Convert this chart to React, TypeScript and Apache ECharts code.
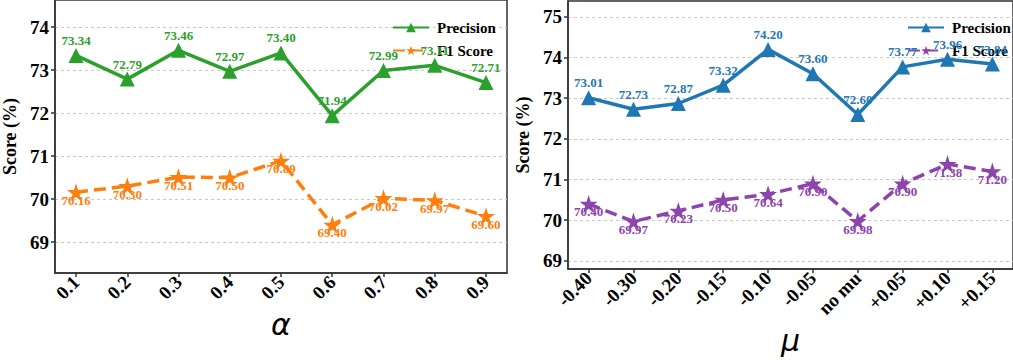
import React, { useEffect, useRef } from "react";
import * as echarts from "echarts";

const alphaCats = ["0.1", "0.2", "0.3", "0.4", "0.5", "0.6", "0.7", "0.8", "0.9"];
const alphaPrecision = [73.34, 72.79, 73.46, 72.97, 73.4, 71.94, 72.99, 73.11, 72.71];
const alphaF1 = [70.16, 70.3, 70.51, 70.5, 70.89, 69.4, 70.02, 69.97, 69.6];

const muCats = ["-0.40", "-0.30", "-0.20", "-0.15", "-0.10", "-0.05", "no mu", "+0.05", "+0.10", "+0.15"];
const muPrecision = [73.01, 72.73, 72.87, 73.32, 74.2, 73.6, 72.6, 73.77, 73.96, 73.84];
const muF1 = [70.4, 69.97, 70.23, 70.5, 70.64, 70.9, 69.98, 70.9, 71.38, 71.2];

const leftTicks = [69, 70, 71, 72, 73, 74];
const rightTicks = [69, 70, 71, 72, 73, 74, 75];

const SERIF = "Liberation Serif, Times New Roman, serif";
const STAR =
  "path://M50,0 L61.2,34.5 L97.6,34.5 L68.2,55.9 L79.4,90.5 L50,69.1 L20.6,90.5 L31.8,55.9 L2.4,34.5 L38.8,34.5 Z";

function lineSeries(name: string, vals: number[], idx: number, color: string, isF1: boolean) {
  return {
    type: "line",
    name,
    xAxisIndex: idx,
    yAxisIndex: idx,
    data: vals.map((v, i) => [i, v]),
    symbol: isF1 ? STAR : "triangle",
    symbolSize: isF1 ? 18 : 15,
    color,
    itemStyle: { color },
    lineStyle: { color, width: 3.5, type: isF1 ? [12, 6] : "solid" },
    label: {
      show: true,
      position: isF1 ? "inside" : "top",
      distance: 1,
      offset: isF1 ? [0, 8] : [0, 0],
      formatter: (p: any) => p.value[1].toFixed(2),
      color,
      fontFamily: SERIF,
      fontWeight: "bold",
      fontSize: 13,
    },
    z: isF1 ? 3 : 4,
  };
}

export default function App() {
  const ref = useRef<HTMLDivElement>(null);
  useEffect(() => {
    if (!ref.current) return;
    const chart = echarts.init(ref.current, null, { renderer: "svg" });
    const axisLineStyle = { color: "#333", width: 1.5 };
    const mkX = (idx: number, cats: string[], name: string, gap: number, pad: number) => ({
      type: "value",
      gridIndex: idx,
      min: -pad,
      max: cats.length - 1 + pad,
      name,
      nameLocation: "middle",
      nameGap: gap,
      nameTextStyle: { fontFamily: "DejaVu Sans", fontStyle: "italic", fontSize: 30, color: "#000" },
      axisLine: { show: true, onZero: false, lineStyle: axisLineStyle },
      axisTick: { show: true, customValues: cats.map((_, i) => i), length: 4, lineStyle: axisLineStyle },
      axisLabel: {
        customValues: cats.map((_, i) => i),
        formatter: (v: number) => cats[Math.round(v)] ?? "",
        rotate: 45,
        margin: 6,
        fontFamily: SERIF,
        fontWeight: "bold",
        fontSize: 19,
        color: "#000",
      },
      splitLine: { show: false },
    });
    const mkY = (idx: number, min: number, max: number, ticks: number[]) => ({
      type: "value",
      gridIndex: idx,
      min,
      max,
      name: "Score (%)",
      nameLocation: "middle",
      nameGap: 36,
      nameTextStyle: { fontFamily: SERIF, fontWeight: "bold", fontSize: 18, color: "#000" },
      axisLine: { show: true, onZero: false, lineStyle: axisLineStyle },
      axisTick: { show: true, customValues: ticks, length: 4, lineStyle: axisLineStyle },
      axisLabel: {
        customValues: ticks,
        formatter: (v: number) => String(v),
        margin: 6,
        fontFamily: SERIF,
        fontWeight: "bold",
        fontSize: 19,
        color: "#000",
      },
      splitLine: { show: true, lineStyle: { color: "#c8c8c8", type: [3, 3], width: 1 } },
    });
    const legendCommon = {
      orient: "vertical",
      itemWidth: 36,
      itemHeight: 12,
      itemGap: 8,
      formatter: (n: string) => n.split("|")[0],
      textStyle: { fontFamily: SERIF, fontWeight: "bold", fontSize: 15, color: "#000", padding: [0, 0, 0, 3] },
    };
    chart.setOption({
      animation: false,
      backgroundColor: "#fff",
      grid: [
        { left: 54, top: 0, width: 453, height: 273, show: true, borderColor: "#333", borderWidth: 1.5, backgroundColor: "transparent" },
        { left: 568, top: 1, width: 454, height: 272, show: true, borderColor: "#333", borderWidth: 1.5, backgroundColor: "transparent" },
      ],
      xAxis: [mkX(0, alphaCats, "α", 30, 0.41), mkX(1, muCats, "μ", 40, 0.46)],
      yAxis: [mkY(0, 68.28, 74.63, leftTicks), mkY(1, 68.8, 75.39, rightTicks)],
      legend: [
        { ...legendCommon, left: 387, top: 15, data: ["Precision|a", "F1 Score|a"] },
        { ...legendCommon, left: 902, top: 15, data: ["Precision|m", "F1 Score|m"] },
      ],
      series: [
        lineSeries("Precision|a", alphaPrecision, 0, "#2ca02c", false),
        lineSeries("F1 Score|a", alphaF1, 0, "#ff7f0e", true),
        lineSeries("Precision|m", muPrecision, 1, "#1f77b4", false),
        lineSeries("F1 Score|m", muF1, 1, "#8e44ad", true),
      ],
    });
    return () => chart.dispose();
  }, []);
  return (
    <div
      ref={ref}
      style={{ position: "fixed", left: 0, top: 0, width: 1013, height: 360 }}
    />
  );
}
